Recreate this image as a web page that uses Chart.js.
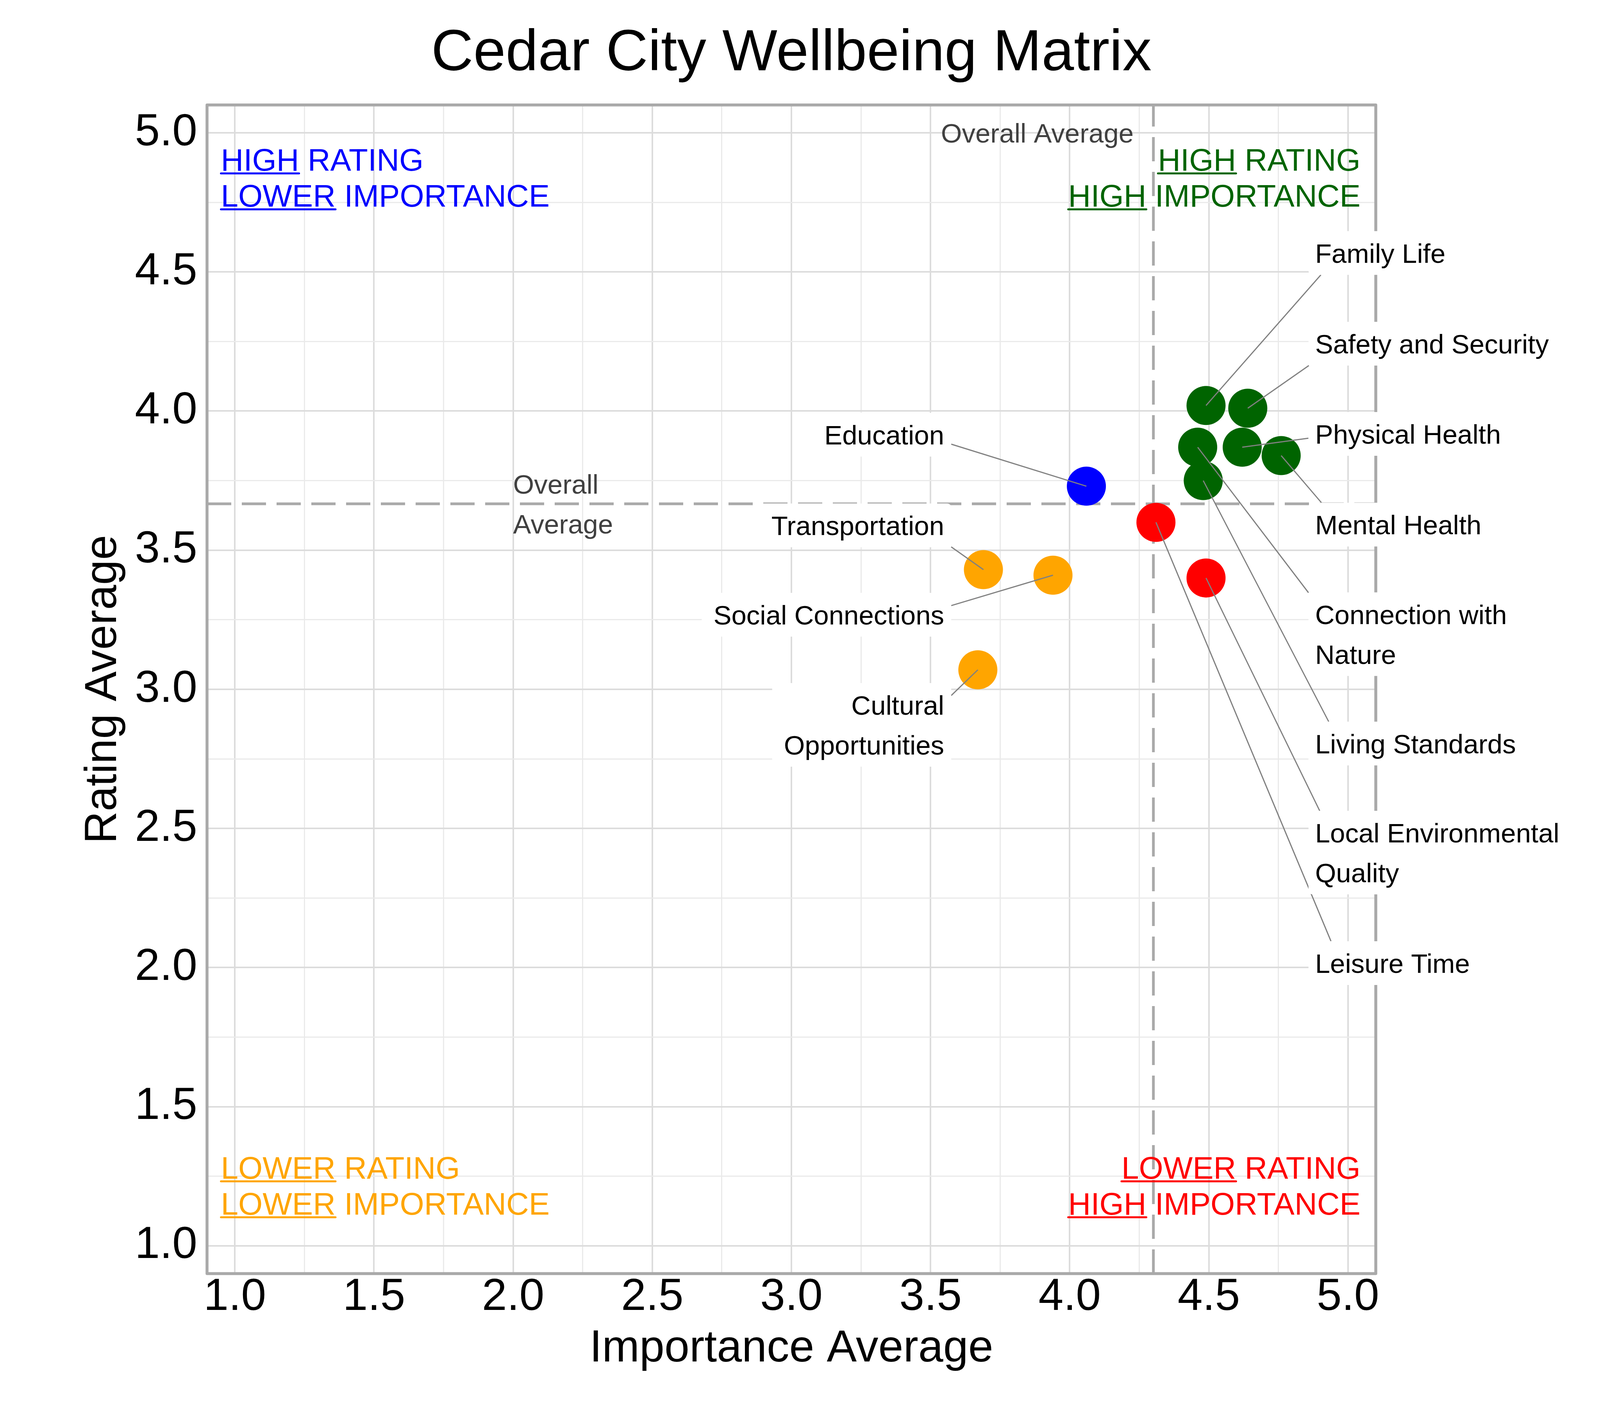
<!DOCTYPE html>
<html>
<head>
<meta charset="utf-8">
<script src="https://cdn.jsdelivr.net/npm/chart.js@4.4.0/dist/chart.umd.min.js"></script>
<style>
html,body{margin:0;padding:0;background:#ffffff;}
#wrap{width:4200px;height:3600px;}
</style>
</head>
<body>
<div id="wrap"><canvas id="c" width="4200" height="3600"></canvas></div>
<script>
// ---------------- data ----------------
const categories = ['Family Life','Safety and Security','Physical Health','Mental Health','Connection with\nNature','Living Standards','Local Environmental\nQuality','Leisure Time','Education','Transportation','Social Connections','Cultural\nOpportunities'];
const importance = [4.49, 4.64, 4.62, 4.76, 4.46, 4.48, 4.49, 4.31, 4.06, 3.69, 3.94, 3.67];
const rating     = [4.02, 4.01, 3.87, 3.84, 3.87, 3.75, 3.40, 3.60, 3.73, 3.43, 3.41, 3.07];

// label anchor positions (data units) and side of the text
const labelX    = [4.882, 4.882, 4.882, 4.882, 4.882, 4.882, 4.882, 4.882, 3.549, 3.549, 3.549, 3.549];
const labelY    = [4.568, 4.242, 3.918, 3.592, 3.198, 2.805, 2.413, 2.016, 3.915, 3.589, 3.268, 2.872];
const labelSide = ['right','right','right','right','right','right','right','right','left','left','left','left'];

// ticks
const xTickValues = [1.0, 1.5, 2.0, 2.5, 3.0, 3.5, 4.0, 4.5, 5.0];
const xTickLabels = ['1.0','1.5','2.0','2.5','3.0','3.5','4.0','4.5','5.0'];
const yTickValues = [1.0, 1.5, 2.0, 2.5, 3.0, 3.5, 4.0, 4.5, 5.0];
const yTickLabels = ['1.0','1.5','2.0','2.5','3.0','3.5','4.0','4.5','5.0'];
const gridValues  = [1.0, 1.25, 1.5, 1.75, 2.0, 2.25, 2.5, 2.75, 3.0, 3.25, 3.5, 3.75, 4.0, 4.25, 4.5, 4.75, 5.0];

// overall averages (means of the series)
const avgImportance = importance.reduce((a, b) => a + b, 0) / importance.length;
const avgRating = rating.reduce((a, b) => a + b, 0) / rating.length;

// quadrant annotations
const quadrantLabels = [
  {lines: [['HIGH', ' RATING'], ['LOWER', ' IMPORTANCE']], color: '#0000FF', x: 0.95, y: 4.864, align: 'left'},
  {lines: [['HIGH', ' RATING'], ['HIGH', ' IMPORTANCE']], color: '#006400', x: 5.045, y: 4.864, align: 'right'},
  {lines: [['LOWER', ' RATING'], ['LOWER', ' IMPORTANCE']], color: '#FFA500', x: 0.95, y: 1.2414, align: 'left'},
  {lines: [['LOWER', ' RATING'], ['HIGH', ' IMPORTANCE']], color: '#FF0000', x: 5.045, y: 1.2414, align: 'right'}
];
const avgTextTop  = {text: 'Overall Average', x: 4.23, y: 5.0};
const avgTextLeft = {lines: ['Overall', 'Average'], x: 2.0};

// ---------------- styling ----------------
const FONT = '"Liberation Sans", Arial, Helvetica, sans-serif';
const pointColors = importance.map((v, i) => {
  const hi = v >= avgImportance, hr = rating[i] >= avgRating;
  if (hi && hr) return '#006400';
  if (!hi && hr) return '#0000FF';
  if (hi && !hr) return '#FF0000';
  return '#FFA500';
});
const isMajor = v => Math.abs(v * 2 - Math.round(v * 2)) < 1e-9;
const labelFor = (vals, labs) => v => {
  const i = vals.findIndex(t => Math.abs(t - v) < 1e-9);
  return i >= 0 ? labs[i] : '';
};

function clipEntry(x0, y0, x1, y1, b) {
  let t0 = 0, t1 = 1;
  const dx = x1 - x0, dy = y1 - y0;
  const p = [-dx, dx, -dy, dy];
  const q = [x0 - b.l, b.r - x0, y0 - b.t, b.b - y0];
  for (let i = 0; i < 4; i++) {
    if (p[i] === 0) { if (q[i] < 0) return null; }
    else {
      const r = q[i] / p[i];
      if (p[i] < 0) { if (r > t0) t0 = r; } else { if (r < t1) t1 = r; }
    }
  }
  if (t0 > t1) return null;
  return t0;
}

function roundRect(ctx, x, y, w, h, r) {
  ctx.beginPath();
  ctx.moveTo(x + r, y);
  ctx.lineTo(x + w - r, y);
  ctx.arcTo(x + w, y, x + w, y + r, r);
  ctx.lineTo(x + w, y + h - r);
  ctx.arcTo(x + w, y + h, x + w - r, y + h, r);
  ctx.lineTo(x + r, y + h);
  ctx.arcTo(x, y + h, x, y + h - r, r);
  ctx.lineTo(x, y + r);
  ctx.arcTo(x, y, x + r, y, r);
  ctx.closePath();
}

const overlay = {
  id: 'overlay',
  beforeDatasetsDraw(chart) {
    const {ctx, chartArea: a, scales: {x, y}} = chart;
    ctx.save();
    ctx.beginPath();
    ctx.rect(a.left, a.top, a.right - a.left, a.bottom - a.top);
    ctx.clip();
    // dashed average lines
    ctx.strokeStyle = '#A9A9A9';
    ctx.lineWidth = 7;
    ctx.setLineDash([62, 27]);
    const vx = x.getPixelForValue(avgImportance);
    ctx.beginPath(); ctx.moveTo(vx, a.bottom); ctx.lineTo(vx, a.top); ctx.stroke();
    const hy = y.getPixelForValue(avgRating);
    ctx.beginPath(); ctx.moveTo(a.left, hy); ctx.lineTo(a.right, hy); ctx.stroke();
    ctx.setLineDash([]);
    ctx.restore();

    ctx.save();
    // "Overall Average" texts
    ctx.fillStyle = '#404040';
    ctx.font = '69px ' + FONT;
    ctx.textAlign = 'right';
    ctx.textBaseline = 'alphabetic';
    ctx.fillText(avgTextTop.text, x.getPixelForValue(avgTextTop.x), y.getPixelForValue(avgTextTop.y) + 25);
    ctx.textAlign = 'left';
    const lx = x.getPixelForValue(avgTextLeft.x);
    avgTextLeft.lines.forEach((t, k) => {
      const cy = hy + (k - (avgTextLeft.lines.length - 1) / 2) * 102;
      ctx.fillText(t, lx, cy + 25);
    });

    // quadrant labels
    ctx.font = '80px ' + FONT;
    ctx.textAlign = 'left';
    quadrantLabels.forEach(q => {
      const ax = x.getPixelForValue(q.x);
      const by0 = y.getPixelForValue(q.y);
      q.lines.forEach((parts, k) => {
        const by = by0 + k * 92;
        const wFirst = ctx.measureText(parts[0]).width;
        const wAll = ctx.measureText(parts[0] + parts[1]).width;
        const sx = q.align === 'left' ? ax : ax - wAll;
        ctx.fillStyle = q.color;
        ctx.fillText(parts[0] + parts[1], sx, by);
        ctx.strokeStyle = q.color;
        ctx.lineWidth = 5;
        ctx.lineCap = 'round';
        ctx.beginPath();
        ctx.moveTo(sx, by + 7);
        ctx.lineTo(sx + wFirst, by + 7);
        ctx.stroke();
      });
    });
    ctx.restore();
  },
  afterDatasetsDraw(chart) {
    const {ctx, chartArea: a, scales: {x, y}} = chart;
    ctx.save();
    // panel border
    ctx.strokeStyle = '#A9A9A9';
    ctx.lineWidth = 7.5;
    ctx.lineJoin = 'round';
    ctx.strokeRect(a.left, a.top, a.right - a.left, a.bottom - a.top);

    // label geometry
    ctx.font = '69px ' + FONT;
    const boxes = categories.map((name, i) => {
      const lines = name.split('\n');
      const w = Math.max(...lines.map(l => ctx.measureText(l).width));
      const tx = x.getPixelForValue(labelX[i]);
      const cy = y.getPixelForValue(labelY[i]);
      const hh = 56 + (lines.length - 1) * 51;
      let b, target;
      if (labelSide[i] === 'right') {
        b = {l: tx - 17, r: tx + w + 30, t: cy - hh, b: cy + hh};
        target = [tx + 64, cy];
      } else {
        b = {l: tx - w - 30, r: tx + 18, t: cy - hh, b: cy + hh};
        target = [tx - 60, cy];
      }
      return {lines, tx, cy, b, target, side: labelSide[i]};
    });

    // connector segments
    ctx.strokeStyle = '#808080';
    ctx.lineWidth = 3;
    ctx.lineCap = 'butt';
    boxes.forEach((bx, i) => {
      const px0 = x.getPixelForValue(importance[i]);
      const py0 = y.getPixelForValue(rating[i]);
      const t = clipEntry(px0, py0, bx.target[0], bx.target[1], bx.b);
      if (t === null || t <= 0) return;
      ctx.beginPath();
      ctx.moveTo(px0, py0);
      ctx.lineTo(px0 + t * (bx.target[0] - px0), py0 + t * (bx.target[1] - py0));
      ctx.stroke();
    });

    // label boxes and text
    boxes.forEach(bx => {
      ctx.fillStyle = '#FFFFFF';
      roundRect(ctx, bx.b.l, bx.b.t, bx.b.r - bx.b.l, bx.b.b - bx.b.t, 10);
      ctx.fill();
      ctx.fillStyle = '#000000';
      ctx.textAlign = bx.side === 'right' ? 'left' : 'right';
      ctx.textBaseline = 'alphabetic';
      bx.lines.forEach((l, k) => {
        const lc = bx.cy + (k - (bx.lines.length - 1) / 2) * 102;
        ctx.fillText(l, bx.tx, lc + 25);
      });
    });
    ctx.restore();
  }
};

const gridColor = c => (c.tick && isMajor(c.tick.value)) ? '#DCDCDC' : '#EAEAEA';
const gridWidth = c => (c.tick && isMajor(c.tick.value)) ? 4 : 3;

new Chart(document.getElementById('c'), {
  type: 'scatter',
  data: {
    datasets: [{
      label: 'Wellbeing',
      data: importance.map((v, i) => ({x: v, y: rating[i]})),
      backgroundColor: pointColors,
      borderWidth: 0,
      pointRadius: 50,
      pointHoverRadius: 50,
      pointBorderWidth: 0
    }]
  },
  options: {
    responsive: false,
    animation: false,
    devicePixelRatio: 1,
    events: [],
    layout: {padding: {top: 0, right: 678, bottom: 0, left: 0}},
    scales: {
      x: {
        type: 'linear', min: 0.9, max: 5.1, bounds: 'data',
        afterBuildTicks: s => { s.ticks = gridValues.map(v => ({value: v})); },
        afterFit: s => { s.height = 339; },
        grid: {color: gridColor, lineWidth: gridWidth, drawTicks: false},
        border: {display: false},
        ticks: {
          callback: labelFor(xTickValues, xTickLabels),
          autoSkip: false, maxRotation: 0, minRotation: 0,
          font: {family: FONT, size: 115, lineHeight: 1.0},
          color: '#000000', padding: 4
        },
        title: {
          display: true, text: 'Importance Average', color: '#000000',
          font: {family: FONT, size: 115, lineHeight: 1.2},
          padding: {top: 0, bottom: 77}
        }
      },
      y: {
        type: 'linear', min: 0.9, max: 5.1, bounds: 'data',
        afterBuildTicks: s => { s.ticks = gridValues.map(v => ({value: v})); },
        afterFit: s => { s.width = 530; },
        grid: {color: gridColor, lineWidth: gridWidth, drawTicks: false},
        border: {display: false},
        ticks: {
          callback: labelFor(yTickValues, yTickLabels),
          autoSkip: false,
          font: {family: FONT, size: 115, lineHeight: 1.0},
          color: '#000000', padding: 25
        },
        title: {
          display: true, text: 'Rating Average', color: '#000000',
          font: {family: FONT, size: 115, lineHeight: 1.2},
          padding: {top: 196, bottom: 0}
        }
      }
    },
    plugins: {
      legend: {display: false},
      tooltip: {enabled: false},
      title: {
        display: true, text: 'Cedar City Wellbeing Matrix', color: '#000000',
        font: {family: FONT, size: 149, weight: 'normal', lineHeight: 1.2},
        padding: {top: 50, bottom: 40},
        fullSize: false
      }
    }
  },
  plugins: [overlay]
});
</script>
</body>
</html>
